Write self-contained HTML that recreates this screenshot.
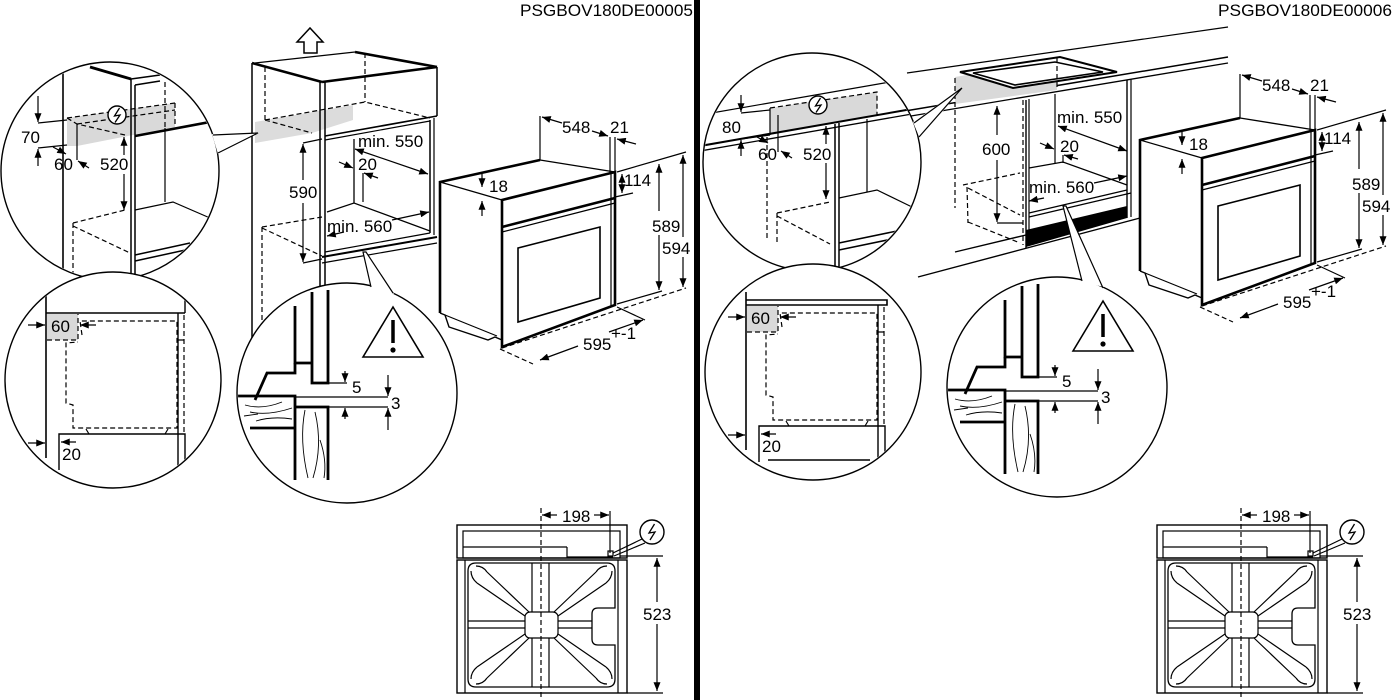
<!DOCTYPE html>
<html><head><meta charset="utf-8"><style>
html,body{margin:0;padding:0;background:#fff;width:1400px;height:700px;overflow:hidden}
svg{display:block}
text{font-family:"Liberation Sans",Arial,sans-serif;font-size:17px;fill:#000;stroke:none}
.d{stroke-dasharray:5 3}
</style></head><body>
<svg width="1400" height="700" viewBox="0 0 1400 700" xmlns="http://www.w3.org/2000/svg">
<defs>
<marker id="a" viewBox="0 0 10 8" refX="10" refY="4" markerWidth="9" markerHeight="7" markerUnits="userSpaceOnUse" orient="auto-start-reverse"><path d="M0,0L10,4L0,8z" fill="#000" stroke="none"/></marker>
<clipPath id="c1"><circle cx="110" cy="171" r="108"/></clipPath>
<clipPath id="c2"><circle cx="113" cy="380" r="107"/></clipPath>
<clipPath id="c3"><circle cx="347" cy="393" r="109"/></clipPath>
<clipPath id="c4"><circle cx="812" cy="162" r="108"/></clipPath>
</defs>
<rect x="0" y="0" width="1400" height="700" fill="#fff"/>
<rect x="694" y="0" width="6" height="700" fill="#000"/>
<text x="520" y="16" font-size="17.5" textLength="173" lengthAdjust="spacingAndGlyphs">PSGBOV180DE00005</text>
<text x="1218" y="16" font-size="17.5" textLength="174" lengthAdjust="spacingAndGlyphs">PSGBOV180DE00006</text>

<g fill="none" stroke="#000" stroke-width="1.2">

<!-- ============ LEFT CABINET ============ -->
<polygon points="297,42 310,28 323,42 317,42 317,53 304,53 304,42" fill="#fff" stroke-width="1.5"/>
<polygon points="255,122 353,105 353,120 312,133 255,143" fill="#dcdcdc" stroke="none"/>
<line x1="252" y1="63" x2="252" y2="338" stroke-width="1.5"/>
<line x1="252" y1="63" x2="322" y2="82" stroke-width="2.6"/>
<line x1="255" y1="63" x2="355" y2="52"/>
<line x1="355" y1="52" x2="437" y2="67" stroke-width="2.6"/>
<line x1="322" y1="82" x2="437" y2="67" stroke-width="2.6"/>
<line x1="437" y1="67" x2="437" y2="116" stroke-width="1.5"/>
<line x1="320" y1="82" x2="320" y2="292" stroke-width="1.5"/>
<line x1="325" y1="82" x2="325" y2="292" stroke-width="1.5"/>
<line x1="325" y1="136" x2="437" y2="116" stroke-width="1.6"/>
<line x1="325" y1="140" x2="430" y2="121"/>
<line x1="430" y1="120" x2="430" y2="233" stroke-width="1.5"/>
<line x1="434" y1="118" x2="434" y2="235"/>
<line x1="354" y1="139" x2="354" y2="203" stroke-width="1.3"/>
<polyline points="327,212 354,203 430,231"/>
<line x1="325" y1="252" x2="430" y2="233"/>
<line x1="322" y1="257" x2="437" y2="237" stroke-width="2"/>
<line x1="322" y1="263" x2="437" y2="243"/>
<path class="d" d="M265,67 L265,120 M365,53 L365,102 M265,120 L365,102 L430,118 M265,120 L312,133 M262,227 L322,217 M262,227 L262,338 M262,228 L322,256"/>
<!-- dims -->
<line x1="303" y1="143" x2="322" y2="139"/>
<line x1="303" y1="263" x2="322" y2="259"/>
<line x1="303" y1="180" x2="303" y2="144" marker-end="url(#a)"/>
<line x1="303" y1="203" x2="303" y2="262" marker-end="url(#a)"/>
<text x="289" y="198">590</text>
<text x="358" y="147">min. 550</text>
<line x1="355" y1="149" x2="428" y2="174" marker-start="url(#a)" marker-end="url(#a)"/>
<text x="358" y="170">20</text>
<line x1="339" y1="162" x2="353" y2="168" marker-end="url(#a)"/>
<line x1="378" y1="178" x2="364" y2="173" marker-end="url(#a)"/>
<line x1="363" y1="173" x2="363" y2="202"/>
<text x="327" y="232">min. 560</text>
<line x1="344" y1="232" x2="327" y2="236" marker-end="url(#a)"/>
<line x1="392" y1="220" x2="429" y2="212" marker-end="url(#a)"/>

<!-- ============ LEFT OVEN ============ -->
<g id="ovenL">
<polyline points="440,313 440,182 540,160" stroke-width="2.6"/>
<line x1="540" y1="160" x2="615" y2="172" stroke-width="1.3"/>
<line x1="440" y1="182" x2="502" y2="200"/>
<polygon points="502,200 615,172 615,305 502,347" stroke-width="2.6" fill="#fff"/>
<line x1="611" y1="174" x2="611" y2="306"/>
<line x1="502" y1="227" x2="615" y2="198" stroke-width="2.6"/>
<line x1="502" y1="232" x2="615" y2="203"/>
<polygon points="518,248 600,227 600,298 518,322" stroke-width="1.6"/>
<polyline points="440,313 445,315 449,327 488,340 495,337 502,340" stroke-width="1.4"/>
<line x1="445" y1="315" x2="497" y2="336"/>
<line x1="540" y1="160" x2="540" y2="116"/>
<line x1="562" y1="123" x2="542" y2="117" marker-end="url(#a)"/>
<text x="562" y="133">548</text>
<line x1="592" y1="131" x2="608" y2="136" marker-end="url(#a)"/>
<text x="610" y="133">21</text>
<line x1="610" y1="137" x2="610" y2="172"/>
<line x1="615" y1="137" x2="615" y2="172"/>
<line x1="636" y1="144" x2="617" y2="139" marker-end="url(#a)"/>
<line x1="482" y1="174" x2="482" y2="187" marker-end="url(#a)"/>
<text x="489" y="192">18</text>
<line x1="482" y1="216" x2="482" y2="201" marker-end="url(#a)"/>
<line x1="622" y1="174" x2="622" y2="193" marker-start="url(#a)" marker-end="url(#a)"/>
<text x="624" y="186">114</text>
<line x1="615" y1="197" x2="633" y2="193"/>
<line x1="617" y1="172" x2="686" y2="152"/>
<line x1="617" y1="304" x2="662" y2="291"/>
<line class="d" x1="502" y1="348" x2="686" y2="288"/>
<line x1="659" y1="211" x2="659" y2="164" marker-end="url(#a)"/>
<line x1="659" y1="235" x2="659" y2="290" marker-end="url(#a)"/>
<text x="652" y="232">589</text>
<line x1="683" y1="237" x2="683" y2="155" marker-end="url(#a)"/>
<line x1="683" y1="257" x2="683" y2="287" marker-end="url(#a)"/>
<text x="662" y="254">594</text>
<line class="d" x1="500" y1="349" x2="533" y2="364"/>
<line x1="617" y1="307" x2="645" y2="320"/>
<line x1="578" y1="346" x2="540" y2="360" marker-end="url(#a)"/>
<line x1="609" y1="332" x2="643" y2="320" marker-end="url(#a)"/>
<text x="583" y="350">595</text>
<text x="611" y="339" font-size="11">+-1</text>
</g>

<!-- ============ TOP-LEFT CIRCLE ============ -->
<circle cx="110" cy="171" r="109" fill="#fff" stroke-width="1.4"/>
<g clip-path="url(#c1)">
<polygon points="67,118 175,103 175,127 133,135 77,146 67,146" fill="#d9d9d9" stroke="none"/>
<line x1="63" y1="60" x2="63" y2="290" stroke-width="1.6"/>
<line x1="131" y1="79" x2="131" y2="290" stroke-width="1.5"/>
<line x1="135" y1="85" x2="135" y2="290" stroke-width="1.5"/>
<line x1="90" y1="67" x2="131" y2="79" stroke-width="2.8"/>
<line x1="131" y1="79" x2="160" y2="75" stroke-width="1.5"/>
<line x1="135" y1="85" x2="160" y2="81" stroke-width="1.5"/>
<line x1="135" y1="136" x2="210" y2="122" stroke-width="2.6"/>
<path class="d" d="M67,118 L175,103 M67,118 L77,124 L125,135 M77,124 L175,110 M165,82 L165,128 M175,103 L175,127"/>
<line x1="77" y1="124" x2="77" y2="160"/>
<line x1="165" y1="128" x2="165" y2="202"/>
<polyline points="135,210 173,202 210,218"/>
<line x1="135" y1="255" x2="190" y2="243" stroke-width="1.5"/>
<line x1="135" y1="261" x2="190" y2="249" stroke-width="1.5"/>
<path class="d" d="M73,223 L125,210 M73,223 L73,280 M73,226 L130,253"/>
<line x1="38" y1="123" x2="67" y2="120"/>
<line x1="38" y1="148" x2="67" y2="145"/>
<line x1="38" y1="96" x2="38" y2="122" marker-end="url(#a)"/>
<line x1="38" y1="166" x2="38" y2="149" marker-end="url(#a)"/>
<text x="21" y="143">70</text>
<line x1="53" y1="147" x2="66" y2="154" marker-end="url(#a)"/>
<line x1="89" y1="168" x2="78" y2="161" marker-end="url(#a)"/>
<text x="54" y="170">60</text>
<line x1="124" y1="155" x2="124" y2="137" marker-end="url(#a)"/>
<line x1="124" y1="174" x2="124" y2="210" marker-end="url(#a)"/>
<text x="100" y="170">520</text>
<circle cx="117" cy="115" r="9" fill="#fff" stroke-width="1.4"/>
<polyline points="119.5,108 114.5,116 120,115 115,122.5" stroke-width="1.3"/>
</g>
<polygon points="212,134 258,133 218,154" fill="#fff" stroke="none"/>
<polyline points="213,135 258,133 218,153"/>

<!-- ============ BOTTOM-LEFT CIRCLE ============ -->
<circle cx="113" cy="380" r="108" fill="#fff" stroke-width="1.4"/>
<g clip-path="url(#c2)">
<rect x="47" y="314" width="31" height="26" fill="#d9d9d9" stroke="none"/>
<line x1="46" y1="296" x2="46" y2="458" stroke-width="1.6"/>
<line x1="46" y1="313" x2="185" y2="313" stroke-width="1.6"/>
<line x1="185" y1="298" x2="185" y2="313" stroke-width="1.4"/>
<line x1="178" y1="313" x2="178" y2="470" stroke-width="1.4"/>
<path class="d" d="M184,315 L184,434 M47,340 L78,340 L78,314"/>
<line x1="178" y1="340" x2="184" y2="340"/>
<path class="d" d="M82,335 L80,321 L177,321 L177,428 L73,428 L73,405 L66,403 L66,343 L78,342"/>
<line x1="86" y1="429" x2="89" y2="434"/><line x1="168" y1="429" x2="165" y2="434"/>
<polyline points="59,470 59,434 185,434 185,470" stroke-width="1.4"/>
<line x1="28" y1="325" x2="45" y2="325" marker-end="url(#a)"/>
<line x1="96" y1="325" x2="80" y2="325" marker-end="url(#a)"/>
<text x="51" y="332">60</text>
<line x1="28" y1="443" x2="45" y2="443" marker-end="url(#a)"/>
<line x1="76" y1="442" x2="61" y2="442" marker-end="url(#a)"/>
<text x="62" y="460">20</text>
</g>

<!-- ============ LEFT DETAIL CIRCLE ============ -->
<circle cx="347" cy="393" r="110" fill="#fff" stroke-width="1.4"/>
<g clip-path="url(#c3)">
<polyline points="312,292 312,383 328,383 328,290" stroke-width="2.8"/>
<polyline points="295,306 295,363 312,363" stroke-width="2.8"/>
<polyline points="255,400 267,373 295,373 295,363" stroke-width="2.8"/>
<polyline points="236,396 295,396 295,480" stroke-width="2.8"/>
<polyline points="295,407 328,407 328,480" stroke-width="2.8"/>
<line x1="250" y1="428" x2="295" y2="428" stroke-width="2.8"/>
<line x1="295" y1="397" x2="388" y2="397"/>
<line x1="328" y1="407" x2="388" y2="407"/>
<line x1="328" y1="383" x2="347" y2="383"/>
<path d="M245,405 Q262,410 282,402 M250,412 Q268,416 292,408 M256,421 Q272,416 292,419 M244,416 L258,414" stroke-width="0.9"/>
<path d="M305,410 Q299,440 308,478 M315,412 Q323,445 313,478 M320,440 Q327,460 324,478" stroke-width="0.9"/>
<line x1="345" y1="371" x2="345" y2="382" marker-end="url(#a)"/>
<line x1="345" y1="419" x2="345" y2="408" marker-end="url(#a)"/>
<text x="352" y="393">5</text>
<line x1="388" y1="375" x2="388" y2="396" marker-end="url(#a)"/>
<line x1="388" y1="430" x2="388" y2="408" marker-end="url(#a)"/>
<text x="391" y="409">3</text>
<polygon points="363,357 393,307 423,357" stroke-width="1.6"/>
<line x1="393" y1="320" x2="393" y2="343" stroke-width="3.5"/>
<circle cx="393" cy="350" r="2.6" fill="#000" stroke="none"/>
</g>
<polygon points="363,252 366,252 394,294 371,289" fill="#fff" stroke="none"/>
<polyline points="371,287 363,252 366,252 393,293"/>

<!-- ============ LEFT TOP VIEW ============ -->
<g id="tvL">
<rect x="457" y="525" width="170" height="33" stroke-width="1.4"/>
<rect x="463" y="531" width="157" height="27"/>
<line x1="463" y1="547" x2="567" y2="547"/>
<polyline points="567,547 567,557 613,557"/>
<rect x="608" y="551" width="5" height="5"/>
<rect x="457" y="560" width="170" height="133" stroke-width="1.4"/>
<line x1="465" y1="560" x2="465" y2="693"/>
<line x1="618" y1="560" x2="618" y2="693"/>
<path d="M476,563 H607 Q615,563 615,571 V608 H598 Q592,608 592,614 V639 Q592,645 598,645 H615 V679 Q615,687 607,687 H476 Q468,687 468,679 V571 Q468,563 476,563 Z" stroke-width="1.3"/>
<rect x="525" y="612" width="33" height="26" rx="5"/>
<path d="M532,563 V612 M549,563 V612 M532,638 V687 M549,638 V687 M468,621 H525 M468,628 H525 M558,621 H592 M558,628 H592"/>
<path d="M529,612 L487,572 M525,616 L477,583 M554,612 L596,572 M558,616 L606,583 M529,638 L487,678 M525,634 L477,667 M554,638 L596,678 M558,634 L606,667"/>
<path d="M487,572 Q483,566 476,566 M477,583 Q471,578 471,571 M596,572 Q600,566 607,566 M606,583 Q612,578 612,571 M487,678 Q483,684 476,684 M477,667 Q471,672 471,679 M596,678 Q600,684 607,684 M606,667 Q612,672 612,679"/>
<line class="d" x1="541" y1="508" x2="541" y2="700"/>
<line x1="610" y1="511" x2="610" y2="553"/>
<line x1="557" y1="515" x2="542" y2="515" marker-end="url(#a)"/>
<line x1="594" y1="515" x2="609" y2="515" marker-end="url(#a)"/>
<text x="562" y="522">198</text>
<polyline points="613,553 642,539"/>
<polyline points="614,556 645,543"/>
<circle cx="652" cy="532" r="12" fill="#fff" stroke-width="1.4"/>
<polyline points="654.5,524 649,533 655,532 650,540" stroke-width="1.3"/>
<line x1="620" y1="556" x2="663" y2="556"/>
<line x1="627" y1="693" x2="663" y2="693"/>
<line x1="657" y1="602" x2="657" y2="558" marker-end="url(#a)"/>
<line x1="657" y1="624" x2="657" y2="691" marker-end="url(#a)"/>
<text x="643" y="620">523</text>
</g>

<!-- ============ RIGHT SCENE ============ -->
<line x1="907" y1="73" x2="1228" y2="27"/>
<line x1="905" y1="111" x2="1228" y2="57" stroke-width="1.5"/>
<line x1="905" y1="117" x2="1228" y2="63" stroke-width="1.3"/>
<polygon points="955,77 1057,60 1057,90 955,104" fill="#d9d9d9" stroke="none"/>
<polygon points="960,72 1060,57 1117,72 1013,88" stroke-width="2" fill="#fff"/>
<polygon points="973,73 1055,62 1103,72 1015,85" stroke-width="1.6"/>
<path class="d" d="M955,78 L955,208 M1057,58 L1057,88 M1023,100 L1023,245 M963,185 L1020,173 M967,187 L968,223 M968,188 L1020,215 M968,222 L1020,243"/>
<line x1="1026" y1="100" x2="1026" y2="248" stroke-width="1.4"/>
<line x1="1029" y1="99" x2="1029" y2="230"/>
<line x1="1127" y1="80" x2="1127" y2="218" stroke-width="1.4"/>
<line x1="1131" y1="79" x2="1131" y2="217"/>
<line x1="1055" y1="94" x2="1055" y2="163"/>
<polyline points="1029,168 1063,162 1127,185"/>
<line x1="1029" y1="213" x2="1127" y2="190"/>
<line x1="1029" y1="217" x2="1131" y2="193"/>
<polygon points="1026,230 1127,206 1127,218 1026,247" fill="#000" stroke="none"/>
<line x1="955" y1="252" x2="1026" y2="235" stroke-width="1.4"/>
<line x1="918" y1="277" x2="1140" y2="218" stroke-width="1.4"/>
<line x1="997" y1="135" x2="997" y2="106" marker-end="url(#a)"/>
<line x1="997" y1="160" x2="997" y2="222" marker-end="url(#a)"/>
<line x1="997" y1="223" x2="1023" y2="223"/>
<text x="982" y="155">600</text>
<text x="1057" y="123">min. 550</text>
<line x1="1058" y1="126" x2="1127" y2="151" marker-start="url(#a)" marker-end="url(#a)"/>
<text x="1060" y="152">20</text>
<line x1="1040" y1="143" x2="1054" y2="149" marker-end="url(#a)"/>
<line x1="1078" y1="159" x2="1064" y2="155" marker-end="url(#a)"/>
<line x1="1063" y1="155" x2="1063" y2="163"/>
<text x="1029" y="193">min. 560</text>
<line x1="1044" y1="198" x2="1029" y2="201" marker-end="url(#a)"/>
<line x1="1094" y1="183" x2="1127" y2="176" marker-end="url(#a)"/>

<!-- right oven -->
<g transform="translate(700,-42)">
<polyline points="440,313 440,182 540,160" stroke-width="2.6"/>
<line x1="540" y1="160" x2="615" y2="172" stroke-width="1.3"/>
<line x1="440" y1="182" x2="502" y2="200"/>
<polygon points="502,200 615,172 615,305 502,347" stroke-width="2.6" fill="#fff"/>
<line x1="611" y1="174" x2="611" y2="306"/>
<line x1="502" y1="227" x2="615" y2="198" stroke-width="2.6"/>
<line x1="502" y1="232" x2="615" y2="203"/>
<polygon points="518,248 600,227 600,298 518,322" stroke-width="1.6"/>
<polyline points="440,313 445,315 449,327 488,340 495,337 502,340" stroke-width="1.4"/>
<line x1="445" y1="315" x2="497" y2="336"/>
<line x1="540" y1="160" x2="540" y2="116"/>
<line x1="562" y1="123" x2="542" y2="117" marker-end="url(#a)"/>
<text x="562" y="133">548</text>
<line x1="592" y1="131" x2="608" y2="136" marker-end="url(#a)"/>
<text x="610" y="133">21</text>
<line x1="610" y1="137" x2="610" y2="172"/>
<line x1="615" y1="137" x2="615" y2="172"/>
<line x1="636" y1="144" x2="617" y2="139" marker-end="url(#a)"/>
<line x1="482" y1="174" x2="482" y2="187" marker-end="url(#a)"/>
<text x="489" y="192">18</text>
<line x1="482" y1="216" x2="482" y2="201" marker-end="url(#a)"/>
<line x1="622" y1="174" x2="622" y2="193" marker-start="url(#a)" marker-end="url(#a)"/>
<text x="624" y="186">114</text>
<line x1="615" y1="197" x2="633" y2="193"/>
<line x1="617" y1="172" x2="686" y2="152"/>
<line x1="617" y1="304" x2="662" y2="291"/>
<line class="d" x1="502" y1="348" x2="686" y2="288"/>
<line x1="659" y1="211" x2="659" y2="164" marker-end="url(#a)"/>
<line x1="659" y1="235" x2="659" y2="290" marker-end="url(#a)"/>
<text x="652" y="232">589</text>
<line x1="683" y1="237" x2="683" y2="155" marker-end="url(#a)"/>
<line x1="683" y1="257" x2="683" y2="287" marker-end="url(#a)"/>
<text x="662" y="254">594</text>
<line class="d" x1="500" y1="349" x2="533" y2="364"/>
<line x1="617" y1="307" x2="645" y2="320"/>
<line x1="578" y1="346" x2="540" y2="360" marker-end="url(#a)"/>
<line x1="609" y1="332" x2="643" y2="320" marker-end="url(#a)"/>
<text x="583" y="350">595</text>
<text x="611" y="339" font-size="11">+-1</text>
</g>

<!-- right top circle -->
<circle cx="812" cy="162" r="109" fill="#fff" stroke-width="1.4"/>
<g clip-path="url(#c4)">
<polygon points="770,108 877,92 877,116 770,135" fill="#d9d9d9" stroke="none"/>
<line x1="700" y1="115" x2="890" y2="82"/>
<line x1="700" y1="146" x2="912" y2="109" stroke-width="2"/>
<line x1="700" y1="151" x2="912" y2="114" stroke-width="1.3"/>
<path class="d" d="M770,108 L877,92 L877,116 M767,137 L767,240 M777,213 L830,202 M777,213 L777,245 M777,216 L830,244"/>
<line x1="770" y1="108" x2="770" y2="135"/>
<line x1="778" y1="115" x2="778" y2="152"/>
<line x1="835" y1="124" x2="835" y2="272" stroke-width="1.5"/>
<line x1="839" y1="123" x2="839" y2="272" stroke-width="1.5"/>
<line x1="867" y1="119" x2="867" y2="192"/>
<polyline points="839,198 877,190 912,207"/>
<line x1="839" y1="243" x2="897" y2="231" stroke-width="1.5"/>
<line x1="839" y1="250" x2="897" y2="238" stroke-width="1.5"/>
<line x1="741" y1="113" x2="770" y2="110"/>
<line x1="741" y1="139" x2="770" y2="135"/>
<line x1="741" y1="95" x2="741" y2="112" marker-end="url(#a)"/>
<line x1="741" y1="156" x2="741" y2="140" marker-end="url(#a)"/>
<text x="722" y="133">80</text>
<line x1="757" y1="137" x2="768" y2="143" marker-end="url(#a)"/>
<line x1="792" y1="158" x2="781" y2="151" marker-end="url(#a)"/>
<text x="758" y="160">60</text>
<line x1="826" y1="144" x2="826" y2="126" marker-end="url(#a)"/>
<line x1="826" y1="163" x2="826" y2="199" marker-end="url(#a)"/>
<text x="803" y="160">520</text>
<circle cx="818" cy="105" r="9" fill="#fff" stroke-width="1.4"/>
<polyline points="820.5,98 815.5,106 821,105 816,112.5" stroke-width="1.3"/>
</g>
<polygon points="913,122 962,88 920,139" fill="#fff" stroke="none"/>
<polyline points="914,123 962,88 919,137"/>

<!-- right bottom circle -->
<g transform="translate(700,-8)">
<circle cx="113" cy="380" r="108" fill="#fff" stroke-width="1.4"/>
<g clip-path="url(#c2)">
<rect x="47" y="314" width="31" height="26" fill="#d9d9d9" stroke="none"/>
<line x1="46" y1="300" x2="46" y2="458" stroke-width="1.6"/>
<polyline points="46,308 187,308 187,313 46,313" stroke-width="1.6"/>
<line x1="178" y1="313" x2="178" y2="470" stroke-width="1.4"/>
<path class="d" d="M184,315 L184,434 M47,340 L78,340 L78,314"/>
<line x1="178" y1="340" x2="184" y2="340"/>
<path class="d" d="M82,335 L80,321 L177,321 L177,428 L73,428 L73,405 L66,403 L66,343 L78,342"/>
<line x1="86" y1="429" x2="89" y2="434"/><line x1="168" y1="429" x2="165" y2="434"/>
<polyline points="59,470 59,434 185,434 185,470" stroke-width="1.4"/>
<line x1="68" y1="468" x2="170" y2="468" stroke-width="1.4"/>
<line x1="28" y1="325" x2="45" y2="325" marker-end="url(#a)"/>
<line x1="96" y1="325" x2="80" y2="325" marker-end="url(#a)"/>
<text x="51" y="332">60</text>
<line x1="28" y1="443" x2="45" y2="443" marker-end="url(#a)"/>
<line x1="76" y1="442" x2="61" y2="442" marker-end="url(#a)"/>
<text x="62" y="460">20</text>
</g>
</g>

<!-- right detail circle -->
<g transform="translate(710,-6)">
<circle cx="347" cy="393" r="110" fill="#fff" stroke-width="1.4"/>
<g clip-path="url(#c3)">
<polyline points="312,292 312,383 328,383 328,290" stroke-width="2.8"/>
<polyline points="295,306 295,363 312,363" stroke-width="2.8"/>
<polyline points="255,400 267,373 295,373 295,363" stroke-width="2.8"/>
<polyline points="236,396 295,396 295,480" stroke-width="2.8"/>
<polyline points="295,407 328,407 328,480" stroke-width="2.8"/>
<line x1="250" y1="428" x2="295" y2="428" stroke-width="2.8"/>
<line x1="295" y1="397" x2="388" y2="397"/>
<line x1="328" y1="407" x2="388" y2="407"/>
<line x1="328" y1="383" x2="347" y2="383"/>
<path d="M245,405 Q262,410 282,402 M250,412 Q268,416 292,408 M256,421 Q272,416 292,419 M244,416 L258,414" stroke-width="0.9"/>
<path d="M305,410 Q299,440 308,478 M315,412 Q323,445 313,478 M320,440 Q327,460 324,478" stroke-width="0.9"/>
<line x1="345" y1="371" x2="345" y2="382" marker-end="url(#a)"/>
<line x1="345" y1="419" x2="345" y2="408" marker-end="url(#a)"/>
<text x="352" y="393">5</text>
<line x1="388" y1="375" x2="388" y2="396" marker-end="url(#a)"/>
<line x1="388" y1="430" x2="388" y2="408" marker-end="url(#a)"/>
<text x="391" y="409">3</text>
<polygon points="363,357 393,307 423,357" stroke-width="1.6"/>
<line x1="393" y1="320" x2="393" y2="343" stroke-width="3.5"/>
<circle cx="393" cy="350" r="2.6" fill="#000" stroke="none"/>
</g>
</g>
<polygon points="1063,206 1066,206 1104,287 1082,282" fill="#fff" stroke="none"/>
<polyline points="1082,281 1063,206 1066,206 1103,288"/>

<!-- right top view -->
<g transform="translate(700,0)">
<rect x="457" y="525" width="170" height="33" stroke-width="1.4"/>
<rect x="463" y="531" width="157" height="27"/>
<line x1="463" y1="547" x2="567" y2="547"/>
<polyline points="567,547 567,557 613,557"/>
<rect x="608" y="551" width="5" height="5"/>
<rect x="457" y="560" width="170" height="133" stroke-width="1.4"/>
<line x1="465" y1="560" x2="465" y2="693"/>
<line x1="618" y1="560" x2="618" y2="693"/>
<path d="M476,563 H607 Q615,563 615,571 V608 H598 Q592,608 592,614 V639 Q592,645 598,645 H615 V679 Q615,687 607,687 H476 Q468,687 468,679 V571 Q468,563 476,563 Z" stroke-width="1.3"/>
<rect x="525" y="612" width="33" height="26" rx="5"/>
<path d="M532,563 V612 M549,563 V612 M532,638 V687 M549,638 V687 M468,621 H525 M468,628 H525 M558,621 H592 M558,628 H592"/>
<path d="M529,612 L487,572 M525,616 L477,583 M554,612 L596,572 M558,616 L606,583 M529,638 L487,678 M525,634 L477,667 M554,638 L596,678 M558,634 L606,667"/>
<path d="M487,572 Q483,566 476,566 M477,583 Q471,578 471,571 M596,572 Q600,566 607,566 M606,583 Q612,578 612,571 M487,678 Q483,684 476,684 M477,667 Q471,672 471,679 M596,678 Q600,684 607,684 M606,667 Q612,672 612,679"/>
<line class="d" x1="541" y1="508" x2="541" y2="700"/>
<line x1="610" y1="511" x2="610" y2="553"/>
<line x1="557" y1="515" x2="542" y2="515" marker-end="url(#a)"/>
<line x1="594" y1="515" x2="609" y2="515" marker-end="url(#a)"/>
<text x="562" y="522">198</text>
<polyline points="613,553 642,539"/>
<polyline points="614,556 645,543"/>
<circle cx="652" cy="532" r="12" fill="#fff" stroke-width="1.4"/>
<polyline points="654.5,524 649,533 655,532 650,540" stroke-width="1.3"/>
<line x1="620" y1="556" x2="663" y2="556"/>
<line x1="627" y1="693" x2="663" y2="693"/>
<line x1="657" y1="602" x2="657" y2="558" marker-end="url(#a)"/>
<line x1="657" y1="624" x2="657" y2="691" marker-end="url(#a)"/>
<text x="643" y="620">523</text>
</g>

</g>
</svg>
</body></html>
